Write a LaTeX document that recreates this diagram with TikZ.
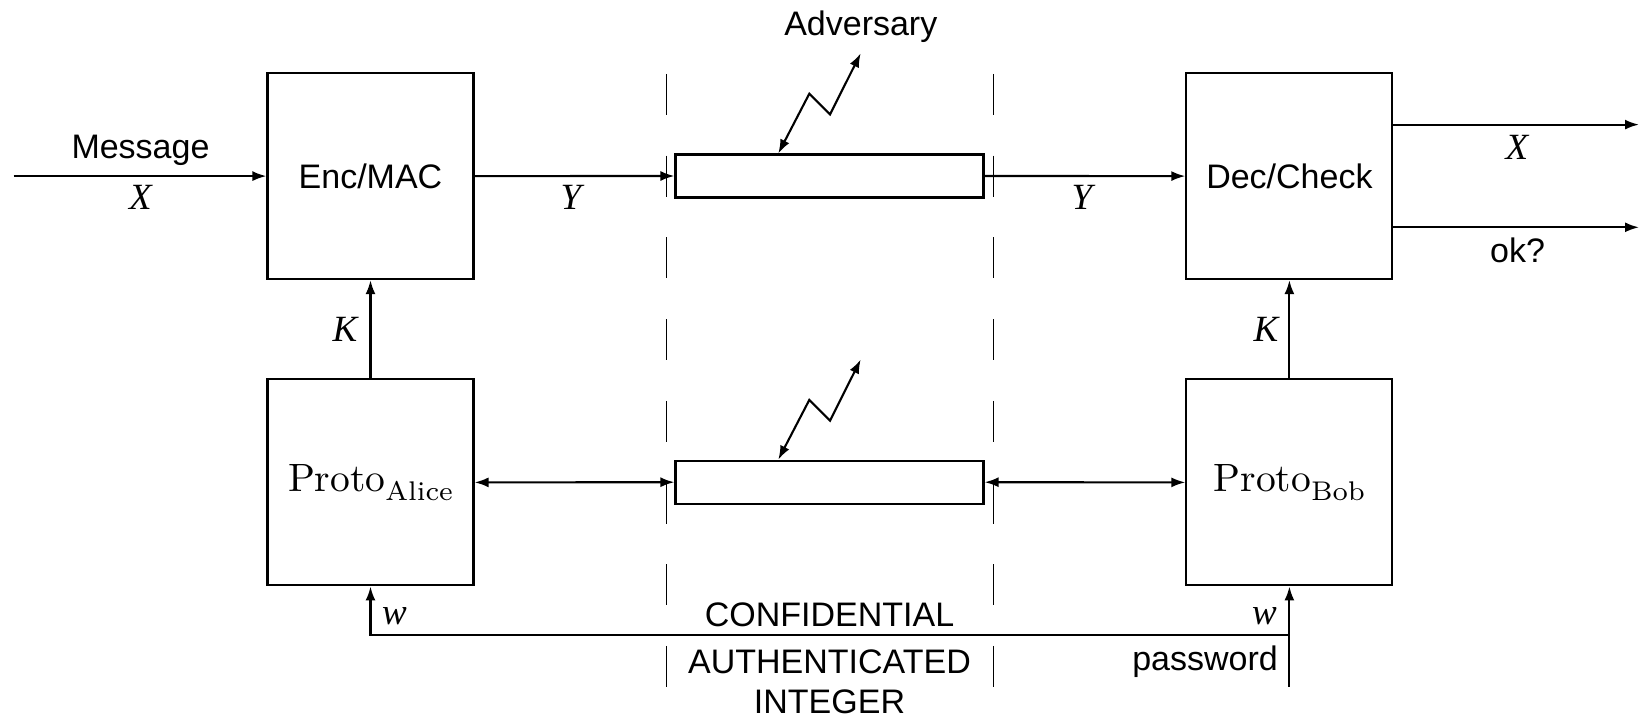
\documentclass[tikz,border=0pt]{standalone}
\usepackage{fontspec}
\newfontfamily\sansf{Liberation Sans}
\newfontfamily\serf{Liberation Serif}
\newfontfamily\romten[Extension=.otf]{lmroman10-regular}
\newfontfamily\romseven[Extension=.otf]{lmroman7-regular}
\usetikzlibrary{arrows.meta}
\begin{document}
\begin{tikzpicture}[x=1pt,y=-1pt,
  box/.style={draw,line width=2.1pt,minimum width=206pt,minimum height=206pt,inner sep=0pt},
  chan/.style={draw,line width=2.1pt,minimum width=308pt,minimum height=43pt,inner sep=0pt},
  arr/.style={line width=2.1pt,-{Latex[length=14pt,width=10pt]}},
  darr/.style={line width=2.1pt,{Latex[length=14pt,width=10pt]}-{Latex[length=14pt,width=10pt]}},
  zap/.style={line width=2.1pt,line join=miter,{Latex[length=14pt,width=10pt]}-{Latex[length=14pt,width=10pt]}},
  sep/.style={line width=1.2pt,dash pattern=on 41pt off 40.7pt},
  lbl/.style={font=\sansf\fontsize{34}{40}\selectfont,inner sep=0pt},
  var/.style={font=\serf\itshape\fontsize{37}{42}\selectfont,inner sep=0pt},
  proto/.style={font=\romten\fontsize{39.5}{44}\selectfont}
]
\useasboundingbox (0,0) rectangle (1639,719);

% boxes
\node[box,lbl] (enc) at (370.5,176.1) {Enc/MAC};
\node[box,lbl] (dec) at (1289.4,176.1) {Dec/Check};
\node[box,proto] (alice) at (370.5,482.4) {Proto\raisebox{-8.5pt}{\romseven\fontsize{27}{32}\selectfont Alice}};
\node[box,proto] (bob) at (1289.4,482.4) {Proto\raisebox{-8.5pt}{\romseven\fontsize{27}{32}\selectfont Bob}};
\node[chan] (ch1) at (829.5,176) {};
\node[chan] (ch2) at (829.5,482.2) {};

% dashed boundaries of the channel
\coordinate (s1t) at (666.7,74);
\coordinate (s1b) at (666.7,687);
\coordinate (s2t) at (993.3,74);
\coordinate (s2b) at (993.3,687);
\draw[sep] (s1t) -- (s1b);
\draw[sep] (s2t) -- (s2b);

% message path
\coordinate (in) at (13.5,176.1);
\coordinate (xo) at (1639,124.6);
\coordinate (ok) at (1639,227.3);
\draw[arr] (in) -- (enc.west);
\draw[arr] (enc.east) -- (ch1.west);
\draw[arr] (ch1.east) -- (dec.west);
\draw[arr] (dec.east |- xo) -- (xo);
\draw[arr] (dec.east |- ok) -- (ok);

% keys
\draw[arr] (alice.north) -- (enc.south);
\draw[arr] (bob.north) -- (dec.south);

% key-agreement channel
\draw[darr] (alice.east) -- (ch2.west);
\draw[darr] (bob.west) -- (ch2.east);

% adversary access
\coordinate (adv1) at (860.7,53.3);
\coordinate (adv2) at (860.7,359.5);
\draw[zap] ([xshift=-51.2pt]ch1.north) -- ++(31,-59.7) -- ++(20.7,20.7) -- (adv1);
\draw[zap] ([xshift=-51.2pt]ch2.north) -- ++(31,-59.7) -- ++(20.7,20.7) -- (adv2);

% password
\coordinate (pw) at (1289.4,686.5);
\coordinate (wl) at (1289.4,635);
\draw[arr] (pw) -- (bob.south);
\draw[arr] (wl) -| (alice.south);

% labels
\node[lbl,anchor=base] (tmsg) at (140.5,158.5) {Message};
\node[var,anchor=base] (tx1) at (140.5,210) {X};
\node[var,anchor=base] (ty1) at (571,210) {Y};
\node[var,anchor=base] (ty2) at (1082,210) {Y};
\node[var,anchor=base] (tx2) at (1517,160) {X};
\node[lbl,anchor=base] (tok) at (1517.5,262.7) {ok?};
\node[var,anchor=base] (tk1) at (345,341.7) {K};
\node[var,anchor=base] (tk2) at (1266,341.7) {K};
\node[lbl,anchor=base] (tadv) at (860.8,35.5) {Adversary};
\node[var,anchor=base west] (tw1) at (382,624) {w};
\node[var,anchor=base east] (tw2) at (1277,624) {w};
\node[lbl,anchor=base east] (tpw) at (1278,670.7) {password};
\node[lbl,anchor=base] (tc1) at (829.5,626) {CONFIDENTIAL};
\node[lbl,anchor=base] (tc2) at (829.5,673) {AUTHENTICATED};
\node[lbl,anchor=base] (tc3) at (829.5,713) {INTEGER};
\end{tikzpicture}
\end{document}
